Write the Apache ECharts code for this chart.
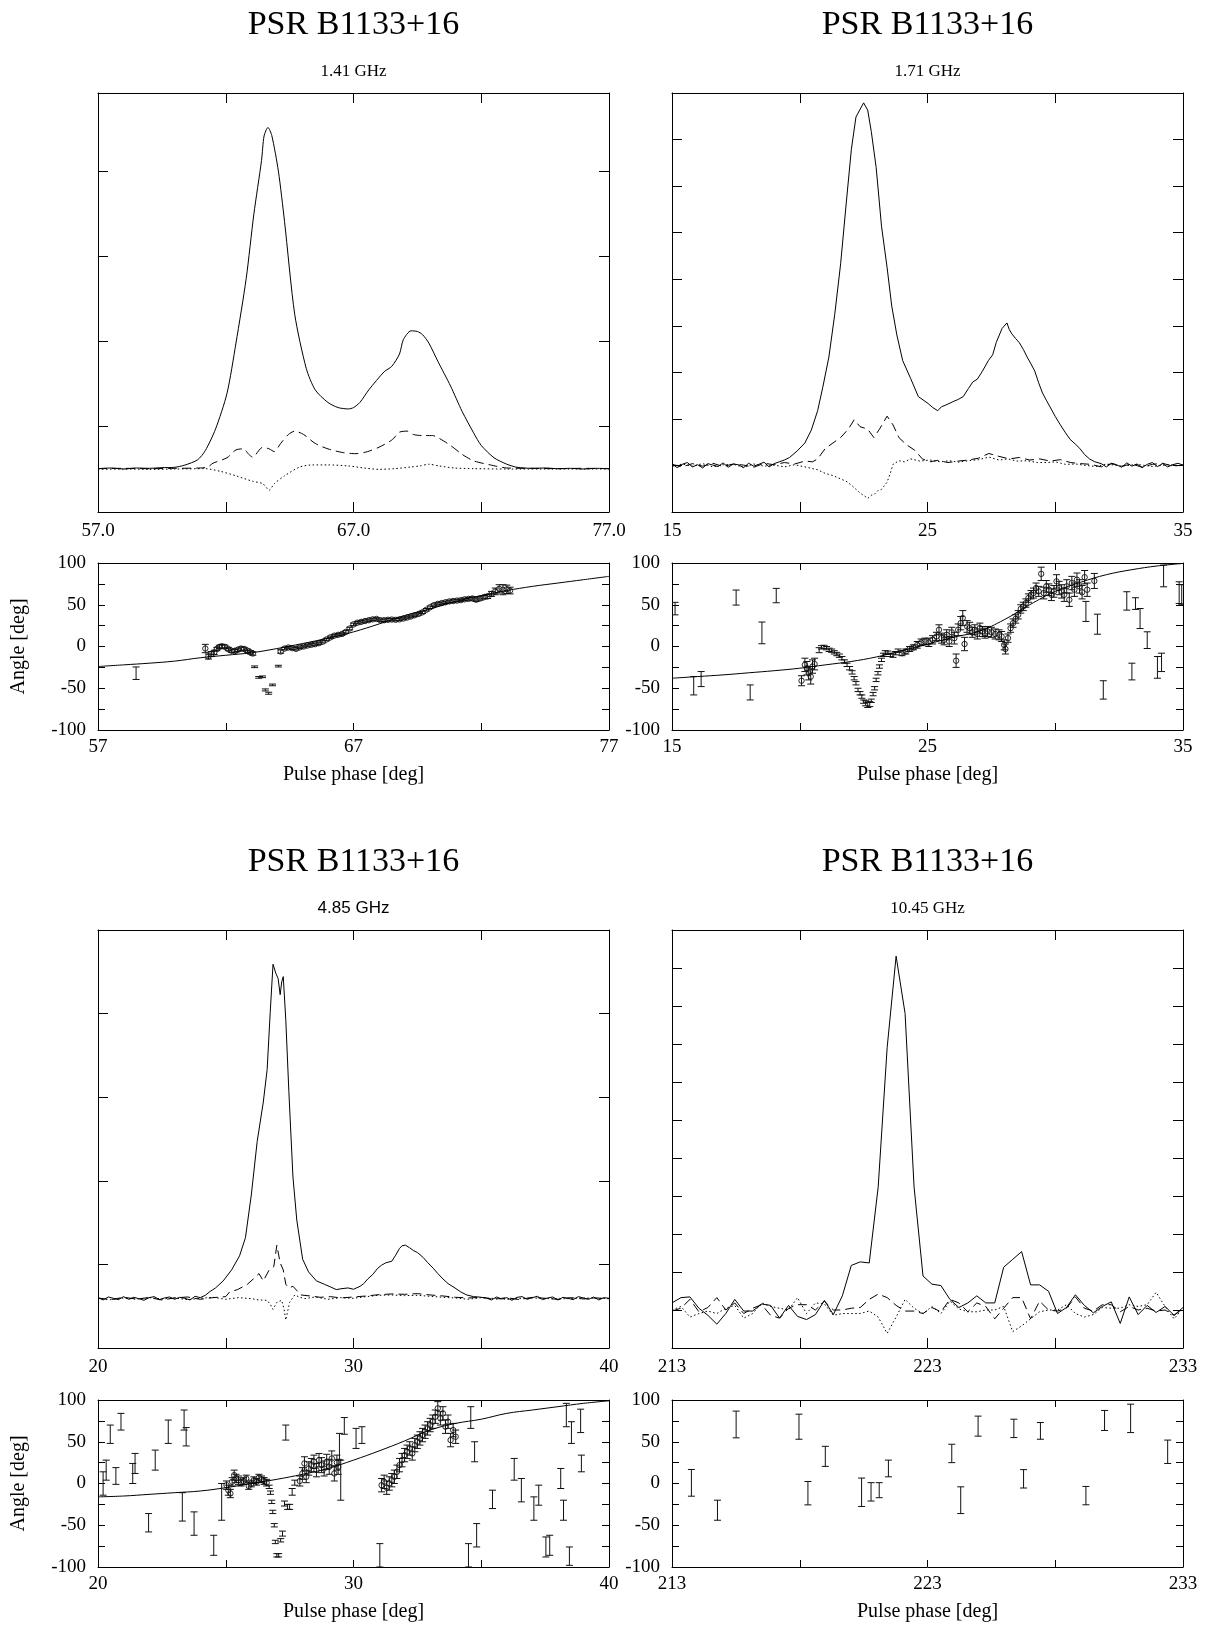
<!DOCTYPE html>
<html>
<head>
<meta charset="utf-8">
<script src="https://cdn.jsdelivr.net/npm/echarts@6/dist/echarts.min.js"></script>
<style>
  html, body { margin: 0; padding: 0; background: #fff; }
  #chart { width: 1208px; height: 1627px; }
</style>
</head>
<body>
<div id="chart"></div>
<script>
// ---------------- PSR B1133+16 : 1.41 GHz ----------------
// Total intensity (I), linear (L) and circular (V) profiles, normalised to the peak of I
const phase141I = [57, 57.5, 58, 58.5, 59, 59.5, 60, 60.4, 60.9, 61.2, 61.6, 62.05, 62.4, 62.8, 63.1, 63.4, 63.5, 63.65, 63.8, 64.06, 64.3, 64.7, 65.15, 65.5, 66.0, 66.4, 66.8, 67.0, 67.25, 67.6, 68.2, 68.5, 68.8, 68.95, 69.25, 69.5, 69.7, 69.95, 70.3, 70.8, 71.25, 71.7, 72.0, 72.5, 73.0, 73.4, 74, 74.5, 75, 75.5, 76, 76.5, 77];
const stokesI141 = [0, 0.002, -0.001, 0.002, 0.001, 0.003, 0.004, 0.0105, 0.026, 0.053, 0.116, 0.221, 0.368, 0.557, 0.746, 0.903, 0.975, 1.0, 0.977, 0.872, 0.725, 0.452, 0.294, 0.231, 0.194, 0.179, 0.175, 0.179, 0.194, 0.231, 0.284, 0.300, 0.336, 0.378, 0.404, 0.402, 0.393, 0.368, 0.315, 0.242, 0.168, 0.105, 0.068, 0.032, 0.013, 0.004, 0.001, 0.002, 0, 0.001, -0.001, 0.001, 0];
const phase141L = [57, 58, 59, 60, 61, 61.3, 61.5, 62.05, 62.4, 62.7, 62.9, 63.05, 63.45, 63.7, 63.9, 64.15, 64.45, 64.7, 65.05, 65.5, 66.0, 66.6, 67.1, 67.55, 68.0, 68.5, 68.8, 69.1, 69.35, 69.7, 70.1, 70.35, 70.8, 71.25, 71.7, 72.35, 73.0, 74, 75, 76, 77];
const linear141 = [0, 0.001, 0, 0.001, 0.002, 0.005, 0.016, 0.032, 0.055, 0.058, 0.042, 0.034, 0.063, 0.058, 0.050, 0.074, 0.100, 0.110, 0.100, 0.074, 0.058, 0.047, 0.044, 0.050, 0.063, 0.084, 0.107, 0.110, 0.100, 0.097, 0.097, 0.089, 0.068, 0.042, 0.023, 0.011, 0.002, 0.001, 0, 0.001, 0];
const phase141V = [57, 58, 59, 60, 61.2, 61.8, 62.4, 63.05, 63.45, 63.7, 63.9, 64.3, 64.9, 65.4, 66.0, 66.8, 67.4, 68.0, 68.6, 69.25, 69.6, 69.95, 70.35, 70.95, 71.7, 73, 75, 77];
const circular141 = [-0.002, -0.001, -0.002, -0.001, 0, -0.008, -0.021, -0.037, -0.044, -0.063, -0.044, -0.021, 0.005, 0.011, 0.011, 0.008, 0.002, -0.002, 0, 0.005, 0.008, 0.013, 0.008, 0.002, 0, -0.001, -0.001, -0.001];
// Position angle [phase, angle, error]
const pa141Circles = [[61.2,-2.4,5],[61.32,-12,3],[61.43,-9,3],[61.55,-7,2.5],[61.65,-3,2],[61.75,-0.5,2],[61.85,0.4,2],[61.97,-0.4,2],[62.1,-3,2],[62.22,-5,2],[62.35,-5.5,2],[62.47,-4,2],[62.6,-2.4,2],[62.72,-3,2],[62.85,-5,2],[62.97,-7,2],[63.06,-8.4,2],
  [64.15,-6,2],[64.3,-2.5,1.5],[64.45,-1.2,1.5],[64.6,-2,1.5],[64.75,-2.8,1.5],[64.9,-1,1.5],[65.05,0,1.5],[65.2,1.2,1.5],[65.35,2,1.5],[65.5,2.8,1.5],[65.65,4,1.5],[65.8,5.8,1.5],[65.95,8.5,1.5],[66.1,11,1.5],[66.25,13,1.5],[66.4,14,1.5],[66.55,15,1.5],[66.7,17.5,1.5],[66.85,21.5,1.5],[67.0,26.5,1.5],[67.15,28.5,1.5],[67.3,29.5,1.5],[67.45,30.5,1.5],[67.6,31.5,1.5],[67.75,32.5,1.5],[67.9,33,1.5],[68.05,31.5,1.5],[68.2,31.5,1.5],[68.35,32,1.5],[68.5,32.3,1.5],[68.65,32,1.5],[68.8,32.5,1.5],[68.95,33.5,1.5],[69.1,34.7,1.5],[69.25,36,1.5],[69.4,37.5,1.5],[69.55,39,1.5],[69.7,41,1.5],[69.85,44,1.5],[70.0,47,1.5],[70.15,49.5,1.5],[70.3,51,1.5],[70.45,52,1.5],[70.6,53,1.5],[70.75,54,1.5],[70.9,54.5,1.5],[71.05,55,1.5],[71.2,55.5,1.5],[71.35,56.5,1.5],[71.5,57,1.5],[71.65,57.5,2],[71.8,56,2],[71.95,57.5,2],[72.1,59,2],[72.25,60,2.5],[72.4,63,3],[72.55,66,4],[72.7,69,5],[72.85,68,6],[73.0,68.5,5],[73.13,67,4]];
const pa141Bars = [[58.49,-32,7.5],[63.13,-24.3,1],[63.29,-37,1],[63.44,-36.3,1],[63.55,-52,1.2],[63.68,-56,1.2],[63.83,-46,1],[64.06,-23.5,1]];
const rvmPhase141 = [57, 58, 59, 60, 61, 62, 63, 64, 65, 66, 67, 68, 69, 70, 71, 72, 73, 74, 75, 76, 77];
const rvm141 = [-24, -22, -20, -17.5, -13.5, -10.5, -7.5, -2.5, 3.5, 10, 17.5, 27, 37, 45, 54, 61, 67, 72, 76, 80, 84];

// ---------------- 1.71 GHz ----------------
const phase171I = [15, 15.2, 15.4, 15.6, 15.8, 16, 16.2, 16.4, 16.6, 16.8, 17, 17.2, 17.4, 17.6, 17.8, 18, 18.2, 18.4, 18.6, 18.8, 19, 19.2,
  19.4, 19.6, 19.9, 20.2, 20.45, 20.7, 20.9, 21.14, 21.37, 21.6, 21.82, 22.02, 22.2, 22.39, 22.5, 22.66, 22.8, 22.99, 23.2, 23.42, 23.6, 23.8, 24.03, 24.34, 24.64, 25.02, 25.2, 25.4, 25.55, 25.7, 26.0, 26.2, 26.4, 26.6, 26.77, 26.95, 27.15, 27.38, 27.55, 27.69, 27.92, 28.11, 28.2, 28.3, 28.45, 28.6, 28.75, 28.9, 29.05, 29.2, 29.35, 29.5, 29.65, 29.8, 30.0, 30.2, 30.4, 30.58, 30.8, 30.96, 31.15, 31.34, 31.55, 31.8,
  32, 32.2, 32.4, 32.6, 32.8, 33, 33.2, 33.4, 33.6, 33.8, 34, 34.2, 34.4, 34.6, 34.8, 35];
const stokesI171 = [0.004, -0.006, 0.003, 0.008, -0.004, 0.002, -0.007, 0.005, 0.001, -0.003, 0.007, -0.005, 0.004, 0.002, -0.006, 0.006, -0.002, 0.003, 0.009, -0.004, 0.005, 0.010,
  0.015, 0.022, 0.040, 0.062, 0.097, 0.151, 0.215, 0.299, 0.417, 0.556, 0.724, 0.872, 0.961, 0.986, 1.0, 0.980, 0.921, 0.822, 0.660, 0.545, 0.440, 0.360, 0.289, 0.240, 0.190, 0.171, 0.160, 0.151, 0.162, 0.166, 0.176, 0.182, 0.190, 0.212, 0.230, 0.238, 0.260, 0.289, 0.305, 0.339, 0.378, 0.393, 0.375, 0.363, 0.350, 0.338, 0.320, 0.299, 0.280, 0.260, 0.228, 0.200, 0.180, 0.161, 0.135, 0.112, 0.090, 0.072, 0.058, 0.047, 0.030, 0.018, 0.010, 0.005,
  -0.004, 0.006, 0.002, -0.005, 0.007, -0.002, 0.004, -0.006, 0.003, 0.008, -0.003, 0.005, -0.004, 0.002, 0.006, 0.001];
const phase171L = [15, 15.4, 15.8, 16.2, 16.6, 17, 17.4, 17.8, 18.2, 18.6, 19, 19.4, 19.8, 20.2, 20.5, 20.7, 21.0, 21.3, 21.6, 21.9, 22.13, 22.36, 22.66, 22.9, 23.12, 23.42, 23.65, 23.88, 24.18, 24.5, 24.8, 25.1, 25.4, 25.8, 26.2, 26.6, 27.0, 27.4, 27.8, 28.2, 28.6, 29.0, 29.4, 29.8, 30.2, 30.6, 31.0, 31.4, 31.8, 32.2, 32.6, 33.0, 33.4, 33.8, 34.2, 34.6, 35.0];
const linear171 = [0.003, -0.004, 0.005, -0.002, 0.006, -0.003, 0.004, 0.001, -0.005, 0.006, 0.002, 0.008, 0.004, 0.012, 0.010, 0.018, 0.047, 0.062, 0.077, 0.100, 0.126, 0.107, 0.100, 0.077, 0.100, 0.136, 0.112, 0.077, 0.057, 0.042, 0.018, 0.010, 0.014, 0.008, 0.012, 0.015, 0.020, 0.033, 0.025, 0.018, 0.022, 0.015, 0.018, 0.012, 0.016, 0.008, 0.005, 0.003, -0.004, 0.005, -0.002, 0.004, -0.005, 0.003, 0.006, -0.002, 0.001];
const phase171V = [15, 15.4, 15.8, 16.2, 16.6, 17, 17.4, 17.8, 18.2, 18.6, 19, 19.4, 19.8, 20.4, 20.7, 21.0, 21.3, 21.6, 21.85, 22.05, 22.36, 22.55, 22.66, 22.8, 22.9, 23.05, 23.2, 23.42, 23.55, 23.65, 23.88, 24.1, 24.34, 24.7, 25.1, 25.5, 25.86, 26.2, 26.6, 27.0, 27.4, 27.8, 28.15, 28.5, 28.9, 29.3, 29.7, 30.0, 30.4, 30.8, 31.2, 31.6, 32.0, 32.6, 33.2, 33.8, 34.4, 35.0];
const circular171 = [-0.003, 0.004, -0.002, 0.005, -0.004, 0.002, 0.003, -0.005, 0.004, -0.002, 0.001, -0.004, 0.002, -0.007, -0.012, -0.022, -0.028, -0.037, -0.045, -0.056, -0.076, -0.085, -0.091, -0.082, -0.081, -0.070, -0.066, -0.046, -0.020, 0.003, 0.013, 0.010, 0.018, 0.012, 0.015, 0.010, 0.013, 0.009, 0.013, 0.016, 0.023, 0.015, 0.018, 0.012, 0.013, 0.008, 0.008, 0.010, 0.003, 0.004, 0.0, -0.003, 0.004, -0.002, 0.003, -0.003, 0.002, -0.001];
const pa171Circles = [[20.07,-41,6],[20.2,-22,8],[20.28,-26,8],[20.35,-32,8],[20.43,-36,9],[20.5,-24,8],[20.58,-21,7],
  [24.0,-8,3],[24.15,-6,3],[24.3,-3,3],[24.45,-1,3],[24.6,2,4],[24.75,5,4],[24.9,6,4],[25.05,5,5],[25.2,8,5],[25.35,12,5],[25.45,20,6],[25.55,10,6],[25.65,8,6],[25.75,14,6],[25.85,6,6],[25.95,17,6],[26.05,10,7],[26.12,-17,8],[26.2,20,7],[26.3,28,8],[26.38,34,9],[26.45,3,8],[26.55,24,7],[26.65,22,7],[26.75,17,6],[26.85,20,6],[26.95,15,6],[27.05,22,6],[27.15,18,6],[27.25,16,6],[27.35,18,6],[27.5,17,6],[27.65,15,6],[27.8,14,6],[27.9,12,6],[28.0,2,6],[28.05,-3,6],[28.15,10,5],[28.25,22,5],[28.35,28,5],[28.45,33,5],[28.55,38,5],[28.65,45,5],[28.75,48,5],[28.85,52,5],[28.95,58,5],[29.05,62,5],[29.15,64,6],[29.25,70,6],[29.35,66,6],[29.45,87,8],[29.55,64,7],[29.65,72,7],[29.75,68,7],[29.85,62,7],[29.95,66,7],[30.05,78,8],[30.15,70,8],[30.25,66,8],[30.35,62,8],[30.45,72,8],[30.55,56,8],[30.65,76,8],[30.75,68,8],[30.85,80,8],[30.95,72,8],[31.05,65,8],[31.15,83,8],[31.25,68,8],[31.53,78.5,9]];
const pa171Bars = [[15.12,45.4,7.5],[15.85,-47,11],[16.14,-39,9],[17.51,58.6,9],[18.06,-55,9],[18.52,16.3,13],[19.08,61,8.6],
  [20.76,-4.4,3],[20.85,-1,2],[20.95,-0.5,2],[21.05,-2,2],[21.15,-4,2],[21.25,-5,2],[21.35,-7,2],[21.45,-9,2],[21.55,-11,2],[21.65,-14,2],[21.75,-18,2],[21.85,-22,2],[21.95,-26,2],[22.05,-31,2],[22.13,-38,2],[22.2,-44,2],[22.28,-52,2],[22.36,-56,2],[22.43,-60,2],[22.5,-66,2],[22.58,-68,3],[22.66,-70,3],[22.74,-69,3],[22.8,-65,2],[22.87,-57,2],[22.93,-50,2],[22.99,-40,2],[23.06,-32,2],[23.12,-24,2],[23.2,-16,2],[23.28,-10,2],[23.35,-7,2],[23.45,-7.5,2],[23.55,-10,2],[23.65,-11,2],[23.75,-8,2],[23.85,-5,2],
  [31.2,42,12],[31.65,26.7,12],[31.88,-52,11],[32.8,54.6,11],[33.0,-30,10],[33.14,51.4,7],[33.32,33.5,12],[33.6,7.6,10],[34.0,-25,13],[34.16,-19,11],[34.24,84.5,13],[34.85,64.5,13],[34.95,62,12]];
const rvmPhase171 = [15, 16, 17, 18, 19, 20, 21, 22, 23, 24, 25, 26, 27, 28, 29, 30, 31, 32, 33, 34, 35];
const rvm171 = [-38, -36, -34, -31.5, -29, -26, -22, -18, -12.5, -5, 2.8, 11, 18, 32, 50, 66, 77, 86, 92, 96.5, 99.5];

// ---------------- 4.85 GHz ----------------
const phase485I = [20, 20.2, 20.4, 20.6, 20.8, 21, 21.2, 21.4, 21.6, 21.8, 22, 22.2, 22.4, 22.6, 22.8, 23, 23.2, 23.4, 23.6, 23.8, 24,
  24.2, 24.38, 24.6, 24.9, 25.23, 25.54, 25.77, 26.0, 26.23, 26.47, 26.62, 26.74, 26.85, 26.96, 27.05, 27.13, 27.19, 27.25, 27.35, 27.47, 27.63, 27.78, 28.01, 28.24, 28.55, 28.86, 29.1, 29.33, 29.55, 29.79, 30.0, 30.26, 30.4, 30.56, 30.75, 30.95, 31.1, 31.26, 31.5, 31.65, 31.8, 31.9, 32.03, 32.2, 32.34, 32.5, 32.73, 32.9, 33.12, 33.3, 33.5, 33.7, 33.97, 34.2, 34.43, 34.7, 34.9,
  35.2, 35.4, 35.6, 35.8, 36, 36.2, 36.4, 36.6, 36.8, 37, 37.2, 37.4, 37.6, 37.8, 38, 38.2, 38.4, 38.6, 38.8, 39, 39.2, 39.4, 39.6, 39.8, 40];
const stokesI485 = [0.003, -0.004, 0.005, 0.001, -0.003, 0.006, -0.002, 0.004, 0.000, -0.005, 0.003, 0.006, -0.003, 0.002, 0.005, -0.002, 0.004, 0.001, -0.004, 0.007, 0.003,
  0.010, 0.021, 0.032, 0.053, 0.086, 0.128, 0.182, 0.31, 0.47, 0.588, 0.685, 0.856, 1.0, 0.973, 0.957, 0.909, 0.947, 0.963, 0.834, 0.62, 0.364, 0.235, 0.118, 0.080, 0.053, 0.043, 0.035, 0.027, 0.030, 0.032, 0.028, 0.037, 0.045, 0.059, 0.072, 0.091, 0.100, 0.107, 0.112, 0.130, 0.150, 0.158, 0.160, 0.152, 0.144, 0.138, 0.123, 0.108, 0.091, 0.075, 0.059, 0.045, 0.032, 0.020, 0.011, 0.006, 0.005,
  0.002, -0.004, 0.005, -0.001, 0.003, -0.005, 0.004, 0.006, -0.002, 0.003, 0.007, -0.003, 0.002, 0.005, -0.004, 0.004, 0.001, -0.003, 0.006, 0.002, -0.002, 0.005, -0.004, 0.003, 0.001];
const phase485L = [20, 20.5, 21, 21.5, 22, 22.5, 23, 23.5, 24, 24.5, 25, 25.15, 25.46, 25.85, 26.08, 26.3, 26.47, 26.7, 26.88, 27.0, 27.13, 27.25, 27.35, 27.47, 27.63, 27.94, 28.3, 28.7, 29.1, 29.5, 30.0, 30.5, 31.0, 31.5, 32.0, 32.5, 33.0, 33.5, 34.0, 34.5, 35.0, 35.5, 36.0, 36.5, 37.0, 37.5, 38.0, 38.5, 39.0, 39.5, 40.0];
const linear485 = [0.002, -0.003, 0.004, -0.001, 0.003, -0.004, 0.002, 0.005, -0.002, 0.003, 0.006, 0.020, 0.027, 0.043, 0.059, 0.075, 0.053, 0.086, 0.096, 0.160, 0.107, 0.086, 0.043, 0.032, 0.037, 0.011, 0.008, 0.004, 0.006, 0.002, 0.005, 0.008, 0.012, 0.014, 0.013, 0.015, 0.011, 0.008, 0.004, 0.002, 0.004, -0.002, 0.003, -0.003, 0.004, 0.001, -0.002, 0.003, -0.001, 0.002, 0.0];
const phase485V = [20, 20.5, 21, 21.5, 22, 22.5, 23, 23.5, 24, 24.5, 25, 25.5, 26, 26.3, 26.62, 26.75, 26.85, 27.0, 27.19, 27.28, 27.35, 27.5, 27.7, 27.9, 28.1, 28.5, 29.0, 29.5, 30.0, 30.5, 31.0, 31.5, 32.0, 32.5, 33.0, 33.5, 34.0, 34.5, 35.0, 36.0, 37.0, 38.0, 39.0, 40.0];
const circular485 = [0.001, -0.003, 0.002, -0.002, 0.003, -0.001, 0.002, -0.003, 0.001, 0.004, -0.002, 0.003, 0.000, -0.004, -0.005, -0.018, -0.032, -0.011, -0.005, -0.030, -0.064, -0.011, 0.011, 0.004, 0.0, 0.005, -0.002, 0.003, 0.001, 0.006, 0.010, 0.011, 0.009, 0.010, 0.007, 0.004, 0.002, -0.002, 0.003, -0.002, 0.002, -0.001, 0.002, 0.0];
const pa485Circles = [[25.03,-2,5],[25.1,-8,6],[25.18,-12,5],[25.25,2,5],[25.33,10,6],[25.4,6,5],[25.5,4,5],[25.6,1,4],[25.7,3,4],[25.8,6,4],[25.9,-3,4],[26.0,0,4],[26.1,4,4],[26.2,2,4],[26.3,7,4],[26.4,5,4],[26.5,3,4],[26.6,1,4],
  [27.9,3,6],[28.0,12,7],[28.08,24,8],[28.15,8,7],[28.25,18,8],[28.35,22,8],[28.45,26,8],[28.55,16,8],[28.65,28,8],[28.75,22,9],[28.85,18,9],[28.95,26,9],[29.05,20,9],[29.15,30,9],[29.25,12,9],[29.35,25,9],[29.4,20,9],
  [31.1,-2,8],[31.2,2,8],[31.3,-5,8],[31.4,0,8],[31.5,4,8],[31.6,8,8],[31.7,14,8],[31.8,22,8],[31.9,28,8],[32.0,34,8],[32.1,38,8],[32.2,42,8],[32.3,36,8],[32.4,46,8],[32.5,50,8],[32.6,54,8],[32.7,58,8],[32.8,62,8],[32.9,66,8],[33.0,70,8],[33.1,74,8],[33.2,80,8],[33.3,90,8],[33.4,78,8],[33.5,84,8],[33.6,68,8],[33.7,74,8],[33.8,52,8],[33.9,64,8],[34.0,56,8]];
const pa485Bars = [[20.2,0,14],[20.32,16,12],[20.48,59,11],[20.7,9,10],[20.9,74,10],[21.36,12,12],[21.45,24,12],[21.98,-47,11],[22.24,28,12],[22.75,62,14],[23.3,-28,17],[23.37,76,12],[23.45,56,11],[23.76,-48,14],[24.53,-74,12],[24.84,-22,22],
  [26.7,-4,2],[26.75,-11,2],[26.8,-22,2],[26.84,-34,2],[26.9,-50,2],[26.94,-70,2],[27.0,-86,2],[27.07,-86,2],[27.15,-68,2],[27.22,-60,3],[27.3,-24,3],[27.42,-28,3],[27.5,-28,3],[27.6,-10,4],[27.7,1,3],
  [27.35,61,9],[29.45,44,16],[29.5,4,24],[29.64,69,10],[30.1,54,12],[30.33,58,10],[31.03,-86,14],
  [34.5,-86,14],[34.59,79,13],[34.74,38,12],[34.82,-62,14],[35.44,-19,11],[36.29,17,13],[36.57,-8,14],[37.06,-30,14],[37.25,-14,12],[37.53,-76,12],[37.68,-74,12],[38.11,6,12],[38.22,-32,12],[38.33,82,14],[38.45,-87,11],[38.53,61,13],[38.89,75,14],[38.92,24,10]];
const rvmPhase485 = [20, 21, 22, 23, 24, 25, 26, 27, 28, 29, 30, 31, 32, 33, 34, 35, 36, 37, 38, 39, 40];
const rvm485 = [-16, -15, -13, -11, -9, -5, 0, 5, 11, 18, 28, 39, 51, 64, 72, 77, 84, 88, 92, 96, 99];

// ---------------- 10.45 GHz ----------------
// 58 equally spaced phase bins spanning 213..233 deg
const phaseStart1045 = 213, phaseStep1045 = 20 / 57;
const phase1045 = Array.from({ length: 58 }, (_, k) => phaseStart1045 + k * phaseStep1045);
const stokesI1045 = [0.020, 0.035, 0.037, 0.005, -0.015, -0.040, -0.010, 0.030, -0.003, -0.003, 0.017, 0.013, -0.023, 0.013, -0.018, -0.027, -0.013, 0.027, -0.013, 0.040, 0.126, 0.136, 0.133, 0.348, 0.742, 1.0, 0.838, 0.348, 0.096, 0.073, 0.069, 0.030, 0.007, 0.020, 0.040, 0.020, 0.020, 0.121, 0.143, 0.165, 0.071, 0.071, 0.053, -0.010, 0.007, 0.043, 0.013, -0.008, 0.010, 0.023, -0.038, 0.037, -0.013, 0.013, -0.007, 0.010, -0.015, 0.007];
const linear1045 = [-0.003, 0.005, 0.030, -0.005, 0.007, 0.035, 0.0, 0.020, -0.010, 0.005, 0.015, -0.015, -0.023, 0.005, 0.015, 0.015, 0.0, 0.025, 0.0, 0.0, 0.005, 0.007, 0.030, 0.045, 0.035, 0.013, -0.003, -0.003, -0.010, 0.007, -0.005, 0.030, 0.020, -0.005, 0.020, 0.010, -0.025, 0.005, 0.035, 0.035, -0.025, 0.025, 0.0, -0.003, 0.005, 0.037, 0.005, -0.003, 0.015, 0.015, -0.005, 0.010, 0.0, 0.005, -0.003, 0.0, -0.015, 0.003];
const circular1045 = [0.0, 0.010, -0.020, -0.010, -0.003, -0.010, 0.005, 0.013, -0.023, -0.010, 0.020, 0.010, 0.005, 0.0, 0.035, -0.010, 0.020, 0.017, -0.015, -0.010, -0.010, -0.010, -0.003, -0.020, -0.066, -0.020, 0.030, 0.005, -0.010, 0.010, -0.010, 0.025, 0.003, -0.005, -0.005, 0.0, 0.0, 0.010, -0.061, -0.045, -0.025, -0.005, 0.0, 0.0, 0.015, -0.010, -0.020, -0.013, 0.007, 0.005, 0.005, 0.015, 0.010, 0.015, 0.050, 0.010, -0.025, 0.005];
const pa1045Bars = [[213.76,0.8,16],[214.78,-32,12],[215.51,70.7,16],[217.97,68,15],[218.32,-11.6,14],[219.0,32.5,12],[220.42,-10.5,17],[220.79,-10,11],[221.11,-8,9],[221.47,18,10],[223.95,36,11],[224.3,-20,16],[224.98,68.7,12],[226.38,66,11],[226.76,5.6,11],[227.42,63,10],[229.2,-14.5,11],[229.93,75.5,12],[230.95,78,17],[232.4,38,14]];

// Text
const pulsarName = 'PSR B1133+16';
const xAxisTitle = 'Pulse phase [deg]';
const yAxisTitle = 'Angle [deg]';

// ---------------- layout and styling ----------------
const SERIF = '"Liberation Serif", "Times New Roman", Times, serif';
const SANS = '"Liberation Sans", Arial, Helvetica, sans-serif';
const COL_LEFT = [98, 672];
const COL_W = 511;
const ROW_TOP = [93, 930];
const PROF_H = [419, 418];
const PA_GAP = 470;      // from top of profile box to top of angle box
const PA_H = 167;

const zip = (xs, ys) => xs.map((x, i) => [x, ys[i]]);

const panels = [
  { col: 0, row: 0, freq: '1.41 GHz', freqFont: SERIF, xMin: 57, xMax: 77, xFmt: v => v.toFixed(1),
    yMin: -0.127, yMax: 1.101, yStep: 0.25, smooth: 0.25,
    I: zip(phase141I, stokesI141), L: zip(phase141L, linear141), V: zip(phase141V, circular141),
    paCircles: pa141Circles, paBars: pa141Bars, rvm: zip(rvmPhase141, rvm141) },
  { col: 1, row: 0, freq: '1.71 GHz', freqFont: SERIF, xMin: 15, xMax: 35, xFmt: v => String(v),
    yMin: -0.1284, yMax: 1.0272, yStep: 0.1284, smooth: false,
    I: zip(phase171I, stokesI171), L: zip(phase171L, linear171), V: zip(phase171V, circular171),
    paCircles: pa171Circles, paBars: pa171Bars, rvm: zip(rvmPhase171, rvm171) },
  { col: 0, row: 1, freq: '4.85 GHz', freqFont: SANS, xMin: 20, xMax: 40, xFmt: v => String(v),
    yMin: -0.1476, yMax: 1.1024, yStep: 0.25, smooth: false,
    I: zip(phase485I, stokesI485), L: zip(phase485L, linear485), V: zip(phase485V, circular485),
    paCircles: pa485Circles, paBars: pa485Bars, rvm: zip(rvmPhase485, rvm485) },
  { col: 1, row: 1, freq: '10.45 GHz', freqFont: SERIF, xMin: 213, xMax: 233, xFmt: v => String(v),
    yMin: -0.1074, yMax: 1.074, yStep: 0.1074, smooth: false,
    I: zip(phase1045, stokesI1045), L: zip(phase1045, linear1045), V: zip(phase1045, circular1045),
    paCircles: [], paBars: pa1045Bars, rvm: null }
];

const grids = [], xAxes = [], yAxes = [], series = [], graphics = [];

function axisLineStyle() { return { show: true, onZero: false, lineStyle: { color: '#000', width: 1 } }; }

function addXAxes(gridIndex, min, max, tickLen, fmt, labelMargin) {
  const base = {
    type: 'value', gridIndex, min, max, interval: 5,
    axisLine: axisLineStyle(), splitLine: { show: false },
    axisTick: { show: true, inside: true, length: tickLen, lineStyle: { color: '#000', width: 1 } }
  };
  xAxes.push(Object.assign({}, base, {
    position: 'bottom',
    axisLabel: {
      show: true, margin: labelMargin, color: '#000', fontFamily: SERIF, fontSize: 19,
      showMinLabel: true, showMaxLabel: true,
      formatter: v => ((Math.round(v - min) % 10) === 0 ? fmt(v) : '')
    }
  }));
  xAxes.push(Object.assign({}, base, { position: 'top', axisLabel: { show: false } }));
}

function addYAxes(gridIndex, min, max, step, tickLen, withLabels) {
  const base = {
    type: 'value', gridIndex, min, max, interval: step,
    axisLine: axisLineStyle(), splitLine: { show: false },
    axisTick: { show: true, inside: true, length: tickLen, lineStyle: { color: '#000', width: 1 } }
  };
  yAxes.push(Object.assign({}, base, {
    position: 'left',
    axisLabel: withLabels ? {
      show: true, margin: 12, color: '#000', fontFamily: SERIF, fontSize: 19,
      showMinLabel: true, showMaxLabel: true,
      formatter: v => (Math.round(v) % 50 === 0 ? String(Math.round(v)) : '')
    } : { show: false }
  }));
  yAxes.push(Object.assign({}, base, { position: 'right', axisLabel: { show: false } }));
}

// error bar with optional open circle at the measured angle
function errorBarRenderer(withCircle) {
  return function (params, api) {
    const x = api.value(0), y = api.value(1), e = api.value(2);
    const top = api.coord([x, y + e]);
    const bot = api.coord([x, y - e]);
    const mid = api.coord([x, y]);
    const cap = 3.5;
    const st = { stroke: '#111', lineWidth: 1, fill: null };
    const children = [
      { type: 'line', shape: { x1: top[0], y1: top[1], x2: bot[0], y2: bot[1] }, style: st },
      { type: 'line', shape: { x1: top[0] - cap, y1: top[1], x2: top[0] + cap, y2: top[1] }, style: st },
      { type: 'line', shape: { x1: bot[0] - cap, y1: bot[1], x2: bot[0] + cap, y2: bot[1] }, style: st }
    ];
    if (withCircle) {
      children.push({ type: 'circle', shape: { cx: mid[0], cy: mid[1], r: 2.7 },
        style: { stroke: '#111', lineWidth: 0.9, fill: null } });
    }
    return { type: 'group', children };
  };
}

panels.forEach((p) => {
  const left = COL_LEFT[p.col];
  const top = ROW_TOP[p.row];
  const gProf = grids.length;
  grids.push({ left, top, width: COL_W, height: PROF_H[p.row] });
  const gPa = grids.length;
  grids.push({ left, top: top + PA_GAP, width: COL_W, height: PA_H });

  addXAxes(gProf, p.xMin, p.xMax, 10, p.xFmt, 10);
  addYAxes(gProf, p.yMin, p.yMax, p.yStep, 10, false);
  addXAxes(gPa, p.xMin, p.xMax, 7, v => String(v), 8);
  addYAxes(gPa, -100, 100, 25, 7, true);

  const xi = gProf * 2, yi = gProf * 2;
  const lineBase = { type: 'line', xAxisIndex: xi, yAxisIndex: yi, showSymbol: false, symbol: 'none',
    smooth: p.smooth, silent: true, clip: true };
  series.push(Object.assign({}, lineBase, { name: 'I', data: p.I, lineStyle: { color: '#000', width: 1 } }));
  series.push(Object.assign({}, lineBase, { name: 'L', data: p.L, lineStyle: { color: '#000', width: 1, type: [9, 5] } }));
  series.push(Object.assign({}, lineBase, { name: 'V', data: p.V, lineStyle: { color: '#000', width: 1, type: [1.5, 2.5] } }));

  const pxi = gPa * 2, pyi = gPa * 2;
  if (p.rvm) {
    series.push({ type: 'line', xAxisIndex: pxi, yAxisIndex: pyi, data: p.rvm, smooth: 0.4, showSymbol: false,
      symbol: 'none', silent: true, lineStyle: { color: '#000', width: 1 } });
  }
  series.push({ type: 'custom', xAxisIndex: pxi, yAxisIndex: pyi, data: p.paBars, clip: true, silent: true,
    dimensions: ['phase', 'angle', 'err'], encode: { x: 0, y: 1 }, renderItem: errorBarRenderer(false) });
  if (p.paCircles.length) {
    series.push({ type: 'custom', xAxisIndex: pxi, yAxisIndex: pyi, data: p.paCircles, clip: true, silent: true,
      dimensions: ['phase', 'angle', 'err'], encode: { x: 0, y: 1 }, renderItem: errorBarRenderer(true) });
  }

  const cx = left + COL_W / 2;
  graphics.push({ type: 'text', x: cx, y: top - 68, silent: true,
    style: { text: pulsarName, fontFamily: SERIF, fontSize: 34, fill: '#000', align: 'center', verticalAlign: 'middle' } });
  graphics.push({ type: 'text', x: cx, y: top - 21.5, silent: true,
    style: { text: p.freq, fontFamily: p.freqFont, fontSize: 17, fill: '#000', align: 'center', verticalAlign: 'middle' } });
  graphics.push({ type: 'text', x: cx, y: top + PA_GAP + PA_H + 45, silent: true,
    style: { text: xAxisTitle, fontFamily: SERIF, fontSize: 20, fill: '#000', align: 'center', verticalAlign: 'middle' } });
  if (p.col === 0) {
    graphics.push({ type: 'text', x: 19, y: top + PA_GAP + PA_H / 2, rotation: Math.PI / 2, silent: true,
      style: { text: yAxisTitle, fontFamily: SERIF, fontSize: 20, fill: '#000', align: 'center', verticalAlign: 'middle' } });
  }
});

const chart = echarts.init(document.getElementById('chart'), null, { renderer: 'canvas' });
chart.setOption({
  animation: false,
  backgroundColor: '#fff',
  grid: grids,
  xAxis: xAxes,
  yAxis: yAxes,
  series,
  graphic: graphics
});
</script>
</body>
</html>
